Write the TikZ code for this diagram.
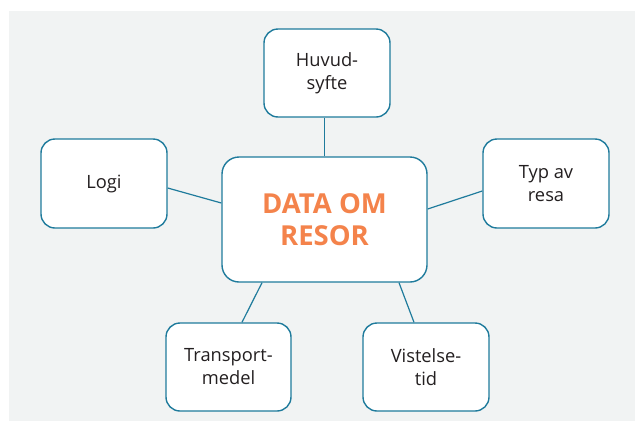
\documentclass[tikz,border=0pt]{standalone}
\usepackage{fontspec}
\setmainfont{Open Sans}
\definecolor{bg}{HTML}{F1F3F3}
\definecolor{edge}{HTML}{1F7B9C}
\definecolor{txt}{HTML}{231F20}
\definecolor{accent}{HTML}{F4834B}
\tikzset{
  leaf/.style={draw=edge, line width=1.4pt, fill=white, rounded corners=14pt,
    minimum width=126pt, minimum height=88pt, align=center, inner sep=0pt,
    text=txt, font=\fontsize{18.3}{23}\selectfont},
  hub/.style={draw=edge, line width=1.4pt, fill=white, rounded corners=17pt,
    minimum width=205pt, minimum height=125pt, align=center, inner sep=0pt,
    text=accent, font=\fontsize{27.5}{32.3}\selectfont\bfseries},
  link/.style={draw=edge, line width=1.2pt}
}
\begin{document}
\begin{tikzpicture}[x=1pt,y=-1pt]
\useasboundingbox (0,0) rectangle (635,421);
\fill[bg] (9,11) rectangle (635,421);
\node[hub] (center) at (324.5,219.5) {DATA OM\\RESOR};
\node[leaf] (huvud) at (327,73) {Huvud-\\syfte};
\node[leaf, minimum height=89pt] (logi) at (104,183.5) {Logi};
\node[leaf, minimum height=89pt] (typ) at (546,183.5) {Typ av\\resa};
\node[leaf, minimum width=125pt] (transport) at (228.5,367) {Transport-\\medel};
\node[leaf] (vistelse) at (426,367) {Vistelse-\\tid};
\draw[link] (center.north) -- (center.north |- huvud.south);
\draw[link] ([yshift=-4.5pt]logi.east) -- ([yshift=16.5pt]center.west);
\draw[link] ([yshift=-7.5pt]typ.west) -- ([yshift=10.5pt]center.east);
\draw[link] ([xshift=13.5pt]transport.north) -- ([xshift=-62.5pt]center.south);
\draw[link] ([xshift=-12pt]vistelse.north) -- ([xshift=74.5pt]center.south);
\end{tikzpicture}
\end{document}
